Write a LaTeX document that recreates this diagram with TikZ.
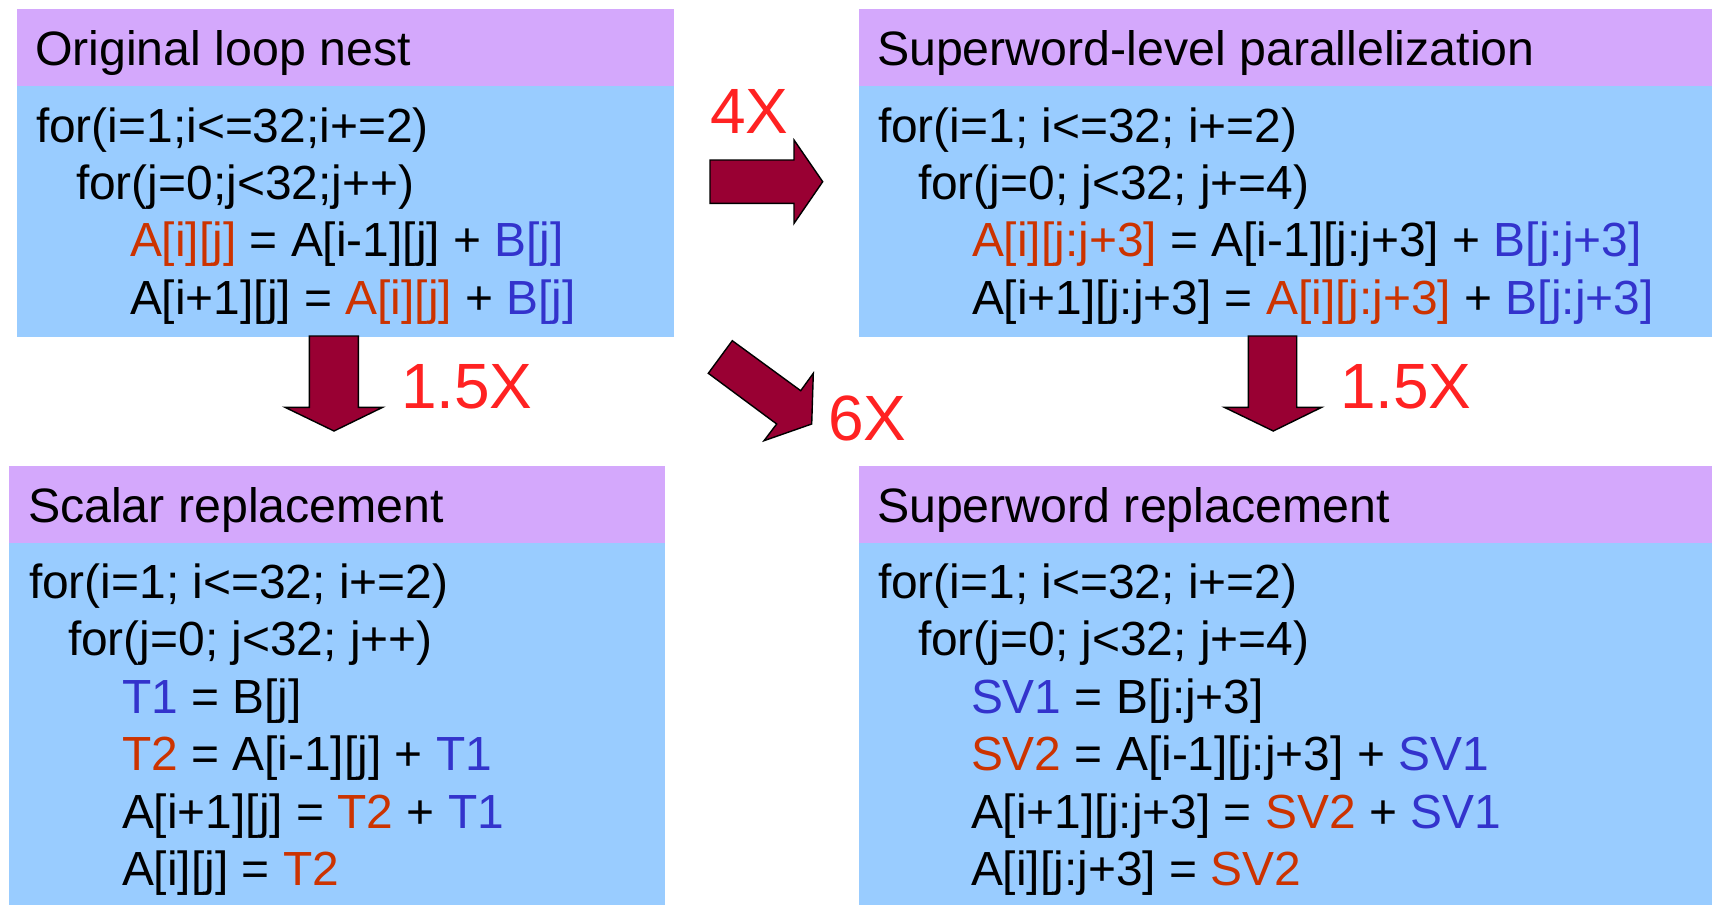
\documentclass[tikz,border=0pt]{standalone}
\usepackage{fontspec}
\setmainfont{Liberation Sans}
\definecolor{hdrc}{RGB}{212,168,252}
\definecolor{bodyc}{RGB}{153,204,255}
\definecolor{redt}{RGB}{204,51,0}
\definecolor{bluet}{RGB}{51,51,204}
\definecolor{labc}{RGB}{255,34,34}
\definecolor{arrc}{RGB}{153,0,51}
\newcommand\myred[1]{\textcolor{redt}{#1}}
\newcommand\myblue[1]{\textcolor{bluet}{#1}}
\begin{document}
\begin{tikzpicture}[x=1pt,y=-1pt,
  hdrbox/.style={fill=hdrc,draw=none,inner sep=0,outer sep=0,anchor=north west},
  bodybox/.style={fill=bodyc,draw=none,inner sep=0,outer sep=0,anchor=north west},
  codeline/.style={anchor=base west,inner sep=0,outer sep=0,font=\fontsize{47.9pt}{57pt}\selectfont},
  titleline/.style={anchor=base west,inner sep=0,outer sep=0,font=\fontsize{48.3pt}{57pt}\selectfont},
  speedup/.style={anchor=base west,inner sep=0,outer sep=0,text=labc,font=\fontsize{64pt}{70pt}\selectfont},
  blockarrow/.style={fill=arrc,draw=black,line width=1.4pt,line join=miter}]
\useasboundingbox (0,0) rectangle (1712,905);

% ---- box 1: Original loop nest
\node[bodybox,minimum width=657pt,minimum height=251pt] (b1) at (17,85.7) {};
\node[hdrbox,minimum width=657pt,minimum height=76.7pt] (h1) at (17,9) {};
\node[titleline] (t1) at (35,65) {Original loop nest};
\node[codeline] (l11) at (36,142) {for(i=1;i<=32;i+=2)};
\node[codeline] (l12) at (76,199.3) {for(j=0;j<32;j++)};
\node[codeline] (l13) at (130,256.6) {\myred{A[i][j]} = A[i-1][j] + \myblue{B[j]}};
\node[codeline] (l14) at (130,314) {A[i+1][j] = \myred{A[i][j]} + \myblue{B[j]}};

% ---- box 2: Superword-level parallelization
\node[bodybox,minimum width=853pt,minimum height=251pt] (b2) at (859,85.7) {};
\node[hdrbox,minimum width=853pt,minimum height=76.7pt] (h2) at (859,9) {};
\node[titleline] (t2) at (877,65) {Superword-level parallelization};
\node[codeline] (l21) at (878,142) {for(i=1; i<=32; i+=2)};
\node[codeline] (l22) at (918,199.3) {for(j=0; j<32; j+=4)};
\node[codeline] (l23) at (972,256.6) {\myred{A[i][j:j+3]} = A[i-1][j:j+3] + \myblue{B[j:j+3]}};
\node[codeline] (l24) at (972,314) {A[i+1][j:j+3] = \myred{A[i][j:j+3]} + \myblue{B[j:j+3]}};

% ---- box 3: Scalar replacement
\node[bodybox,minimum width=656pt,minimum height=362.4pt] (b3) at (9,542.6) {};
\node[hdrbox,minimum width=656pt,minimum height=76.6pt] (h3) at (9,466) {};
\node[titleline] (t3) at (28,522.7) {Scalar replacement};
\node[codeline] (l31) at (29,598) {for(i=1; i<=32; i+=2)};
\node[codeline] (l32) at (68,655.5) {for(j=0; j<32; j++)};
\node[codeline] (l33) at (122,713) {\myblue{T1} = B[j]};
\node[codeline] (l34) at (122,770.5) {\myred{T2} = A[i-1][j] + \myblue{T1}};
\node[codeline] (l35) at (122,828) {A[i+1][j] = \myred{T2} + \myblue{T1}};
\node[codeline] (l36) at (122,885.5) {A[i][j] = \myred{T2}};

% ---- box 4: Superword replacement
\node[bodybox,minimum width=853pt,minimum height=362.4pt] (b4) at (859,542.6) {};
\node[hdrbox,minimum width=853pt,minimum height=76.6pt] (h4) at (859,466) {};
\node[titleline] (t4) at (877,522.7) {Superword replacement};
\node[codeline] (l41) at (878,598) {for(i=1; i<=32; i+=2)};
\node[codeline] (l42) at (918,655.5) {for(j=0; j<32; j+=4)};
\node[codeline] (l43) at (971,713) {\myblue{SV1} = B[j:j+3]};
\node[codeline] (l44) at (971,770.5) {\myred{SV2} = A[i-1][j:j+3] + \myblue{SV1}};
\node[codeline] (l45) at (971,828) {A[i+1][j:j+3] = \myred{SV2} + \myblue{SV1}};
\node[codeline] (l46) at (971,885.5) {A[i][j:j+3] = \myred{SV2}};

% ---- block arrows
\draw[blockarrow] (710,160) -- (794,160) -- (794,140) -- (822.7,181.7)
  -- (794,223.4) -- (794,203.3) -- (710,203.3) -- cycle;
\draw[blockarrow] (309.3,336) -- (358.3,336) -- (358.3,407.3) -- (382.7,407.3)
  -- (334,431) -- (285,407.3) -- (309.3,407.3) -- cycle;
\draw[blockarrow] (1248.3,336) -- (1296.7,336) -- (1296.7,407.3) -- (1321.7,407.3)
  -- (1273.3,431) -- (1224.3,407.3) -- (1248.3,407.3) -- cycle;
\draw[blockarrow] (732.3,340.7) -- (800.7,390.7) -- (813.3,373.3) -- (811.7,424)
  -- (764,440.7) -- (776.7,424) -- (708.3,373.3) -- cycle;

% ---- speed-up labels
\node[speedup] (s4) at (710,133) {4X};
\node[speedup] (s15a) at (401,408.3) {1.5X};
\node[speedup] (s15b) at (1340,408.3) {1.5X};
\node[speedup] (s6) at (828,440.7) {6X};
\end{tikzpicture}
\end{document}
